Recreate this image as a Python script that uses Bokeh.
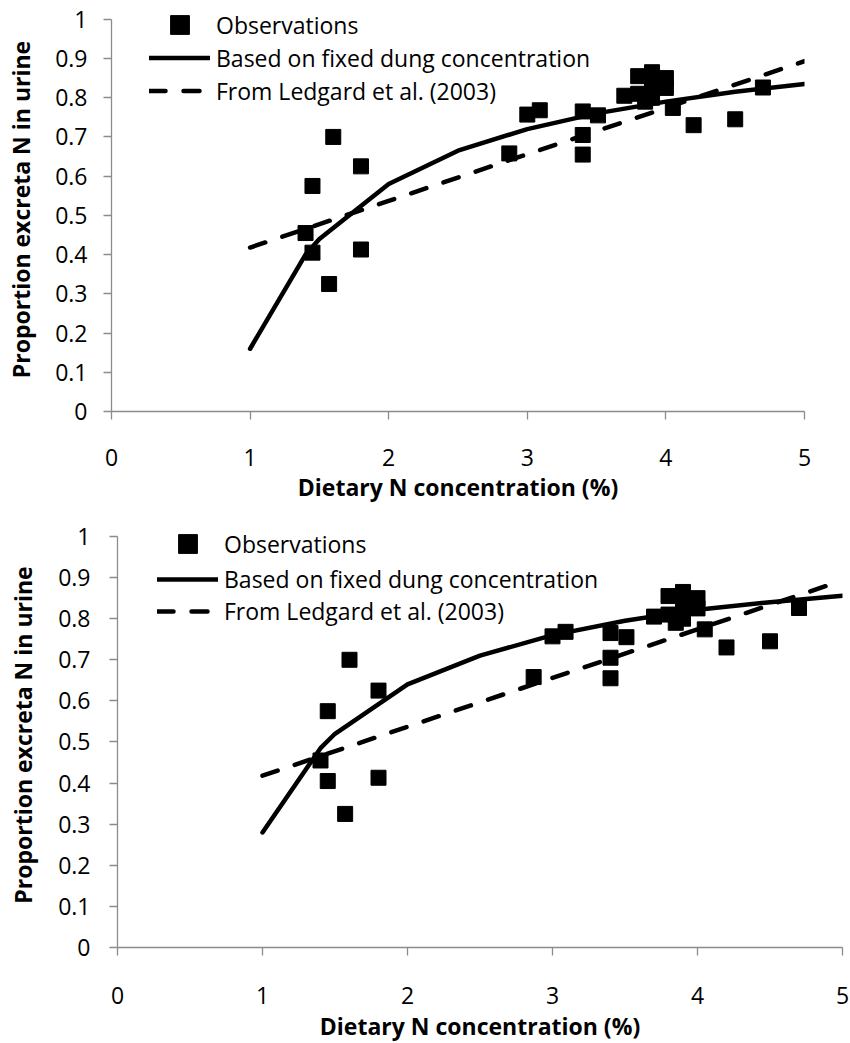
from bokeh.plotting import figure
from bokeh.models import FixedTicker, NumeralTickFormatter, Legend, LegendItem
from bokeh.embed import file_html
from bokeh.resources import INLINE

# ---- data ----
obs_x = [1.40, 1.45, 1.45, 1.57, 1.60, 1.80, 1.80, 2.87, 3.00, 3.09, 3.40, 3.40, 3.40,
         3.51, 3.70, 3.80, 3.80, 3.90, 3.90, 4.00, 4.00, 3.85, 3.90, 4.05, 4.20, 4.50, 4.70]
obs_y = [0.455, 0.575, 0.405, 0.325, 0.700, 0.625, 0.413, 0.658, 0.757, 0.768, 0.765, 0.705, 0.655,
         0.755, 0.805, 0.855, 0.810, 0.865, 0.800, 0.850, 0.825, 0.790, 0.830, 0.774, 0.730, 0.745, 0.826]

fixed_x = [1.0, 1.4, 1.5, 2.0, 2.5, 3.0, 3.5, 4.0, 4.5, 5.0]
fixed_y_top = [0.16, 0.40, 0.44, 0.58, 0.665, 0.72, 0.76, 0.79, 0.815, 0.835]
fixed_y_bottom = [0.28, 0.485, 0.52, 0.64, 0.71, 0.76, 0.795, 0.822, 0.84, 0.856]

ledgard_x = [1.0, 2.0, 3.0, 4.0, 5.0]
ledgard_y = [0.418, 0.537, 0.656, 0.774, 0.893]

x_ticks = [0, 1, 2, 3, 4, 5]
y_ticks = [0, 0.1, 0.2, 0.3, 0.4, 0.5, 0.6, 0.7, 0.8, 0.9, 1.0]

labels = ["Observations", "Based on fixed dung concentration", "From Ledgard et al. (2003)"]
x_title = "Dietary N concentration (%)"
y_title = "Proportion excreta N in urine"

FONT = "Open Sans"
FS = "23px"
AXIS_COLOR = "#8c8c8c"


def legend_box(items, loc, gh):
    return Legend(items=items, location=loc, glyph_width=61, glyph_height=gh, label_height=gh,
                  spacing=0, padding=0, margin=0, border_line_color=None,
                  background_fill_alpha=0, label_text_font=FONT,
                  label_text_font_size=FS, label_text_color="black", label_standoff=6)


def make_panel(fixed_y, y_end, frame_w, frame_h, left, top, bottom, right,
               y_label_standoff, y_title_standoff, x_label_standoff, x_title_standoff,
               marker_loc, lines_loc, lines_gh):
    p = figure(frame_width=frame_w, frame_height=frame_h, x_range=(0, 5), y_range=(0, y_end),
               output_backend="svg", toolbar_location=None,
               min_border_left=left, min_border_top=top,
               min_border_bottom=bottom, min_border_right=right)
    p.outline_line_color = None
    p.grid.visible = False
    p.background_fill_color = "white"
    p.border_fill_color = "white"

    sc = p.scatter(obs_x, obs_y, marker="square", size=15, fill_color="black",
                   line_color="black")
    ln = p.line(fixed_x, fixed_y, line_color="black", line_width=4.5, line_join="round",
                line_cap="round")
    ds = p.line(ledgard_x, ledgard_y, line_color="black", line_width=4.5,
                line_dash="16 18", line_cap="round")

    for ax in (p.xaxis[0], p.yaxis[0]):
        ax.axis_line_color = AXIS_COLOR
        ax.axis_line_width = 1.3
        ax.major_tick_line_color = AXIS_COLOR
        ax.major_tick_line_width = 1.3
        ax.major_tick_out = 8
        ax.major_tick_in = 0
        ax.minor_tick_line_color = None
        ax.major_label_text_font = FONT
        ax.major_label_text_font_size = FS
        ax.major_label_text_color = "black"
        ax.axis_label_text_font = FONT
        ax.axis_label_text_font_size = FS
        ax.axis_label_text_font_style = "bold"
        ax.axis_label_text_color = "black"

    p.xaxis[0].ticker = FixedTicker(ticks=x_ticks)
    p.xaxis[0].axis_label = x_title
    p.xaxis[0].major_label_standoff = x_label_standoff
    p.xaxis[0].axis_label_standoff = x_title_standoff

    p.yaxis[0].ticker = FixedTicker(ticks=y_ticks)
    p.yaxis[0].bounds = (y_ticks[0], y_ticks[-1])
    p.yaxis[0].formatter = NumeralTickFormatter(format="0.[0]")
    p.yaxis[0].axis_label = y_title
    p.yaxis[0].major_label_standoff = y_label_standoff
    p.yaxis[0].axis_label_standoff = y_title_standoff

    p.add_layout(legend_box([LegendItem(label=labels[0], renderers=[sc])], marker_loc, 47))
    p.add_layout(legend_box([LegendItem(label=labels[1], renderers=[ln]),
                             LegendItem(label=labels[2], renderers=[ds])], lines_loc, lines_gh))
    return p


p1 = make_panel(fixed_y_top, 1.03, 693, 404, 111, 7, 99, 20,
                16, 15, 29, 2, (38, 363), (38, 304), 33)
p2 = make_panel(fixed_y_bottom, 1.034, 725, 425, 117, 12, 90, 8,
                19, 16, 31, 3, (40, 380), (40, 320), 32)

open("out.html", "w").write(file_html([p1, p2], INLINE))
